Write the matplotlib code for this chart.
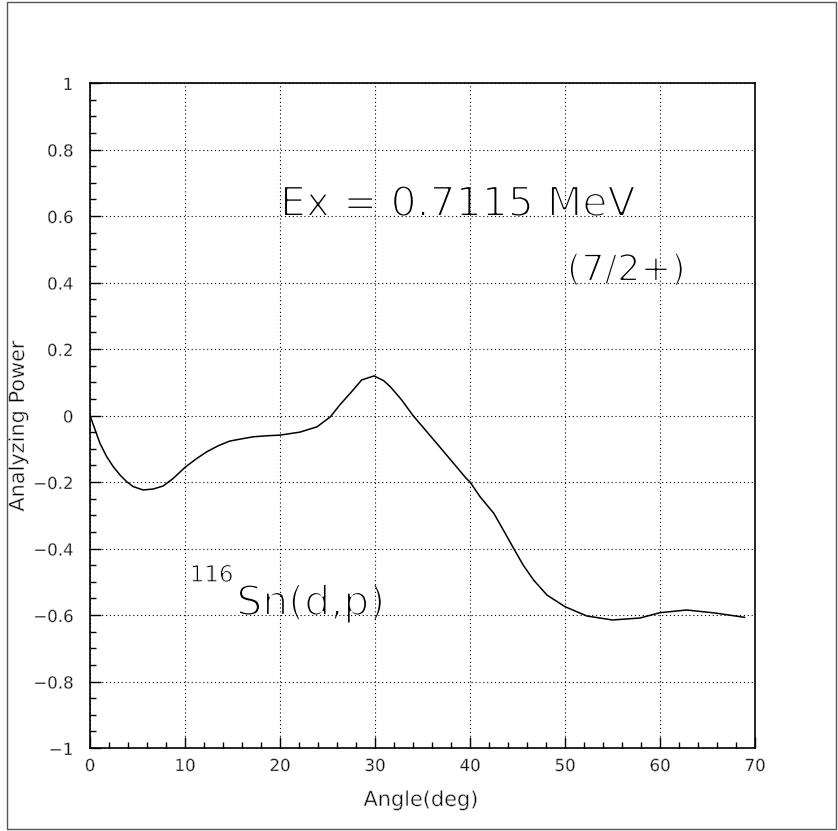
import matplotlib
matplotlib.use("Agg")
import matplotlib.pyplot as plt
import matplotlib.patheffects as pe
from matplotlib.patches import Rectangle
from matplotlib.ticker import MultipleLocator, FixedLocator

# Analyzing power vs. scattering angle, 116Sn(d,p), Ex = 0.7115 MeV
angle = [0.0, 1.05, 1.76, 2.45, 3.16, 3.86, 4.56, 5.6, 6.66, 7.7, 8.77,
         10.0, 11.2, 12.3, 13.5, 14.7, 16.0, 17.2, 18.6, 20.0, 22.1, 23.9,
         25.3, 26.3, 27.4, 28.6, 29.9, 30.9, 31.6, 32.8, 34.0, 36.8, 39.6,
         40.0, 41.05, 42.5, 43.5, 44.6, 45.6, 46.7, 48.1, 50.0, 52.3, 55.0,
         57.9, 60.0, 62.8, 65.8, 68.9]
power = [0.0, -0.084, -0.124, -0.154, -0.179, -0.199, -0.214, -0.224,
         -0.221, -0.212, -0.189, -0.156, -0.130, -0.109, -0.091, -0.077,
         -0.070, -0.064, -0.061, -0.059, -0.050, -0.034, -0.004, 0.032,
         0.067, 0.107, 0.119, 0.105, 0.087, 0.047, 0.0, -0.094, -0.189,
         -0.200, -0.244, -0.294, -0.344, -0.400, -0.450, -0.495, -0.540,
         -0.575, -0.603, -0.615, -0.609, -0.593, -0.585, -0.594, -0.607]

x_ticks = [0, 10, 20, 30, 40, 50, 60, 70]
x_tick_labels = ["0", "10", "20", "30", "40", "50", "60", "70"]
y_ticks = [-1, -0.8, -0.6, -0.4, -0.2, 0, 0.2, 0.4, 0.6, 0.8, 1]
y_tick_labels = ["\u22121", "\u22120.8", "\u22120.6", "\u22120.4", "\u22120.2",
                 "0", "0.2", "0.4", "0.6", "0.8", "1"]

FONT = ["DejaVu Sans"]
W, H = 838, 831


def thin(width):
    """Path effect that trims glyph outlines for a hairline look."""
    return [pe.Normal(), pe.Stroke(linewidth=width, foreground="white")]


fig = plt.figure(figsize=(W / 100, H / 100), dpi=100)
fig.patch.set_facecolor("white")

# outer frame around the page
fig.patches.append(Rectangle((7 / W, 2 / H), 829 / W, 827 / H,
                             transform=fig.transFigure, fill=False,
                             edgecolor="#555555", linewidth=1.0))

ax = fig.add_axes([90 / W, 83 / H, 665 / W, 665 / H])
ax.plot(angle, power, color="black", linewidth=1.1, zorder=3)

ax.set_xlim(0, 70)
ax.set_ylim(-1, 1)
ax.xaxis.set_major_locator(FixedLocator(x_ticks))
ax.set_xticklabels(x_tick_labels)
ax.yaxis.set_major_locator(FixedLocator(y_ticks))
ax.set_yticklabels(y_tick_labels)
ax.xaxis.set_minor_locator(MultipleLocator(2))
ax.yaxis.set_minor_locator(MultipleLocator(0.05))

ax.tick_params(which="both", direction="in", top=False, right=False,
               color="black", width=1.0)
ax.tick_params(which="major", length=8, labelsize=12)
ax.tick_params(which="minor", length=4.5)
ax.tick_params(axis="x", which="major", pad=6.5)
ax.tick_params(axis="y", which="major", pad=12)
for lab in ax.get_xticklabels() + ax.get_yticklabels():
    lab.set_fontfamily(FONT)
    lab.set_path_effects(thin(0.35))

ax.grid(True, which="major", color="black", linewidth=0.8,
        linestyle=(0, (1, 2.5)))

for s in ax.spines.values():
    s.set_linewidth(1.2)

# axis titles
fig.text(421 / W, 1 - 800 / H, "Angle(deg)", fontsize=15, family=FONT,
         ha="center", va="center", path_effects=thin(0.45))
fig.text(18 / W, 1 - 426 / H, "Analyzing Power", fontsize=15, family=FONT,
         rotation=90, ha="center", va="center", path_effects=thin(0.45))

# annotations
ax.text(20.0, 0.6, "Ex = 0.7115 MeV", fontsize=29.5, family=FONT,
        ha="left", va="baseline", path_effects=thin(1.5), zorder=1)
ax.text(50.2, 0.405, "(7/2+)", fontsize=26.5, family=FONT,
        ha="left", va="baseline", path_effects=thin(1.3), zorder=1)
ax.text(15.4, -0.6, "Sn(d,p)", fontsize=29.5, family=FONT,
        ha="left", va="baseline", path_effects=thin(1.5), zorder=1)
ax.text(10.5, -0.5, "116", fontsize=16.5, family=FONT,
        ha="left", va="baseline", path_effects=thin(0.7), zorder=1)

fig.savefig("out.png", dpi=100, facecolor="white")
